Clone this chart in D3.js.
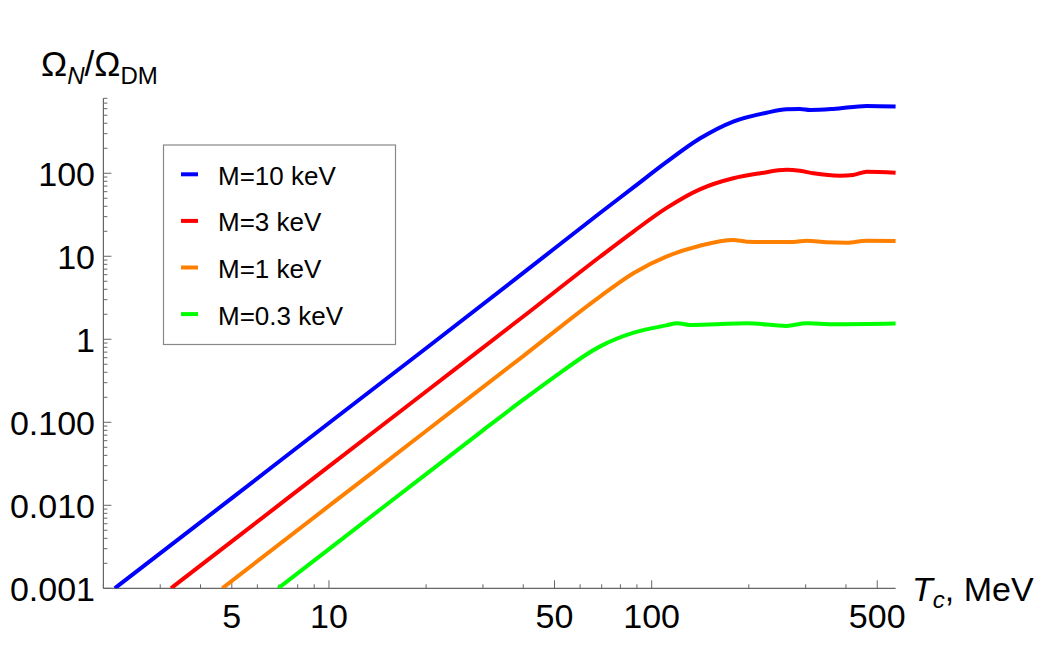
<!DOCTYPE html>
<html>
<head>
<meta charset="utf-8">
<script src="https://cdn.jsdelivr.net/npm/d3@7"></script>
<style>
  html, body { margin: 0; padding: 0; background: #fff; }
  svg { display: block; font-family: "Liberation Sans", Arial, sans-serif; }
</style>
</head>
<body>
<svg id="chart" width="1042" height="648"></svg>
<script>
// ---- data ----
const seriesNames = ["M=10 keV", "M=3 keV", "M=1 keV", "M=0.3 keV"];
const seriesColors = ["#0000ff", "#ff0000", "#ff8000", "#00ff00"];

const tBlue     = [2.17, 5, 10, 20, 40, 69, 88, 111, 141, 179, 227, 262, 288, 310, 365, 464, 570];
const omegaBlue = [0.001, 0.0122, 0.098, 0.78, 6.3, 33, 68, 136, 262, 420, 537, 590, 595, 579, 595, 647, 636];

const tRed      = [3.24, 5, 10, 20, 40, 69, 88, 111, 141, 179, 217, 262, 288, 317, 383, 421, 464, 570];
const omegaRed  = [0.001, 0.00367, 0.0294, 0.235, 1.88, 9.8, 20, 38, 64, 87, 100, 110, 107, 100, 93.5, 95.5, 104.5, 101.6];

const tOrange     = [4.67, 10, 20, 40, 69, 88, 111, 141, 179, 197, 227, 275, 302, 348, 402, 464, 570];
const omegaOrange = [0.001, 0.00982, 0.0785, 0.628, 3.25, 6.3, 9.9, 13.4, 15.7, 15.0, 14.9, 14.9, 15.4, 14.8, 14.6, 15.4, 15.3];

const tGreen     = [6.96, 10, 20, 30, 40, 50, 69, 88, 111, 120, 131, 159, 197, 262, 302, 365, 570];
const omegaGreen = [0.001, 0.00297, 0.0237, 0.08, 0.187, 0.353, 0.816, 1.2, 1.47, 1.56, 1.49, 1.52, 1.56, 1.45, 1.56, 1.52, 1.55];

const xTickValues = [5, 10, 50, 100, 500];
const xTickLabels = ["5", "10", "50", "100", "500"];
const yTickValues = [0.001, 0.01, 0.1, 1, 10, 100];
const yTickLabels = ["0.001", "0.010", "0.100", "1", "10", "100"];

const seriesT = [tBlue, tRed, tOrange, tGreen];
const seriesOmega = [omegaBlue, omegaRed, omegaOrange, omegaGreen];

// ---- layout ----
const svg = d3.select("#chart");
const x = d3.scaleLog().domain([2, 570]).range([103.4, 895.6]);
const y = d3.scaleLog().domain([0.001, 800]).range([588.3, 98.3]);
const axisColor = "#666";

svg.append("defs").append("clipPath").attr("id", "plotclip")
  .append("rect").attr("x", 103.4).attr("y", 80).attr("width", 810).attr("height", 588.3 - 80);

function minorTicks(lo, hi) {
  const out = [];
  for (let e = Math.floor(Math.log10(lo)); e <= Math.ceil(Math.log10(hi)); e++) {
    for (let m = 1; m <= 9; m++) {
      const v = m * Math.pow(10, e);
      if (v >= lo * 0.9999 && v <= hi * 1.0001) out.push(v);
    }
  }
  return out;
}

const g = svg.append("g");

// y axis
const yAxis = g.append("g").attr("class", "yaxis");
yAxis.append("line").attr("x1", x(2)).attr("x2", x(2)).attr("y1", y(800)).attr("y2", y(0.001))
  .attr("stroke", axisColor).attr("stroke-width", 1.2);
const yMinor = minorTicks(0.001, 800).filter(v => !yTickValues.some(t => Math.abs(Math.log10(t) - Math.log10(v)) < 1e-6));
yAxis.selectAll("line.minor").data(yMinor).enter().append("line").attr("class", "minor")
  .attr("x1", x(2)).attr("x2", x(2) + 4).attr("y1", d => y(d)).attr("y2", d => y(d))
  .attr("stroke", axisColor).attr("stroke-width", 1);
yAxis.selectAll("line.major").data(yTickValues).enter().append("line").attr("class", "major")
  .attr("x1", x(2)).attr("x2", x(2) + 8).attr("y1", d => y(d)).attr("y2", d => y(d))
  .attr("stroke", axisColor).attr("stroke-width", 1);
yAxis.selectAll("text").data(yTickValues).enter().append("text")
  .attr("x", 95).attr("y", d => y(d)).attr("dy", "0.36em")
  .attr("text-anchor", "end").attr("font-size", 34).attr("fill", "#000")
  .text((d, i) => yTickLabels[i]);

// x axis
const xAxis = g.append("g").attr("class", "xaxis");
xAxis.append("line").attr("x1", x(2)).attr("x2", x(570)).attr("y1", y(0.001)).attr("y2", y(0.001))
  .attr("stroke", axisColor).attr("stroke-width", 1.2);
const xMinor = minorTicks(2, 570).filter(v => !xTickValues.includes(v));
xAxis.selectAll("line.minor").data(xMinor).enter().append("line").attr("class", "minor")
  .attr("x1", d => x(d)).attr("x2", d => x(d)).attr("y1", y(0.001)).attr("y2", y(0.001) - 4)
  .attr("stroke", axisColor).attr("stroke-width", 1);
xAxis.selectAll("line.major").data(xTickValues).enter().append("line").attr("class", "major")
  .attr("x1", d => x(d)).attr("x2", d => x(d)).attr("y1", y(0.001)).attr("y2", y(0.001) - 8)
  .attr("stroke", axisColor).attr("stroke-width", 1);
xAxis.selectAll("text").data(xTickValues).enter().append("text")
  .attr("x", d => x(d)).attr("y", y(0.001) + 40)
  .attr("text-anchor", "middle").attr("font-size", 34).attr("fill", "#000")
  .text((d, i) => xTickLabels[i]);

// axis labels
const yl = svg.append("text").attr("x", 41).attr("y", 76).attr("font-size", 35).attr("fill", "#000");
yl.append("tspan").text("Ω");
yl.append("tspan").attr("font-size", 24).attr("font-style", "italic").attr("dy", 8).text("N");
yl.append("tspan").attr("dy", -8).text("/Ω");
yl.append("tspan").attr("font-size", 24).attr("dy", 8).text("DM");

const xl = svg.append("text").attr("x", 912).attr("y", 601).attr("font-size", 34).attr("fill", "#000");
xl.append("tspan").attr("font-style", "italic").text("T");
xl.append("tspan").attr("font-size", 24).attr("font-style", "italic").attr("dy", 7).text("c");
xl.append("tspan").attr("dy", -7).text(", MeV");

// curves
const line = d3.line().x(d => x(d[0])).y(d => y(d[1])).curve(d3.curveMonotoneX);
const curves = svg.append("g").attr("clip-path", "url(#plotclip)");
seriesNames.forEach((name, i) => {
  const pts = seriesT[i].map((t, j) => [t, seriesOmega[i][j]]);
  curves.append("path").datum(pts)
    .attr("d", line).attr("fill", "none")
    .attr("stroke", seriesColors[i]).attr("stroke-width", 4)
    .attr("stroke-linejoin", "round");
});

// legend
const lg = svg.append("g");
lg.append("rect").attr("x", 163.5).attr("y", 145).attr("width", 232).attr("height", 199.5)
  .attr("fill", "#fff").attr("stroke", "#888").attr("stroke-width", 1.2);
seriesNames.forEach((name, i) => {
  const cy = 174.3 + i * 46.6;
  lg.append("line").attr("x1", 181).attr("x2", 198).attr("y1", cy).attr("y2", cy)
    .attr("stroke", seriesColors[i]).attr("stroke-width", 4);
  lg.append("text").attr("x", 218).attr("y", cy + 10.5).attr("font-size", 26).attr("fill", "#000").text(name);
});
</script>
</body>
</html>
